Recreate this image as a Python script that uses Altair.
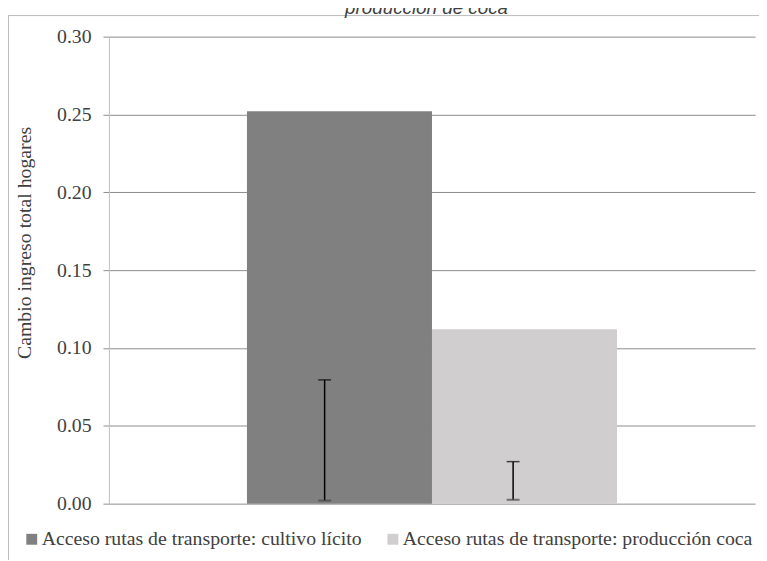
import altair as alt
import pandas as pd

# ---- data ----
series = [
    "Acceso rutas de transporte: cultivo lícito",
    "Acceso rutas de transporte: producción coca",
]
values = [0.252, 0.112]
err_low = [0.002, 0.0025]
err_high = [0.0795, 0.027]
colors = ["#808080", "#d0cecf"]
y_ticks = [0.0, 0.05, 0.10, 0.15, 0.20, 0.25, 0.30]
title_text = "producción de coca"
y_title = "Cambio ingreso total hogares"

df = pd.DataFrame({"series": series, "value": values, "lo": err_low, "hi": err_high})
one = pd.DataFrame({"k": [0]})

FONT = "Liberation Serif"
TXT = "#404040"
W, H = 653, 472
ERR_SHIFT = [-15, -11.5]  # error bars sit a little left of each bar's centre

x_enc = alt.X(
    "series:N",
    sort=series,
    axis=None,
    scale=alt.Scale(paddingInner=0, paddingOuter=0.746),
)
y_scale = alt.Scale(domain=[0, 0.30], nice=False, zero=True)
y_axis = alt.Axis(
    values=y_ticks,
    format=".2f",
    title=y_title,
    titleAngle=270,
    titleX=-85,
    titleY=208,
    titleAlign="center",
    titleBaseline="middle",
)

bars = alt.Chart(df).mark_bar().encode(
    x=x_enc,
    y=alt.Y("value:Q", scale=y_scale, axis=y_axis),
    color=alt.Color(
        "series:N",
        sort=series,
        scale=alt.Scale(domain=series, range=colors),
        title=None,
        legend=alt.Legend(
            orient="none",
            legendX=-88,
            legendY=498,
            direction="horizontal",
            symbolType="square",
            symbolSize=121,
            symbolStrokeWidth=0,
            labelOffset=0,
            columnPadding=21,
            labelLimit=1000,
            padding=0,
        ),
    ),
)

layers = [bars]
for s, shift in zip(series, ERR_SHIFT):
    base = alt.Chart(df).transform_filter(alt.datum.series == s)
    layers.append(
        base.mark_rule(color="black", strokeWidth=1.5, xOffset=shift).encode(
            x=x_enc,
            y=alt.Y("lo:Q", scale=y_scale, axis=y_axis),
            y2="hi:Q",
        )
    )
    layers.append(
        base.mark_tick(
            color="black", thickness=1.5, size=13, orient="horizontal", xOffset=shift
        ).encode(x=x_enc, y=alt.Y("hi:Q", scale=y_scale, axis=y_axis))
    )
    layers.append(
        base.mark_tick(
            color="#454545", thickness=2, size=13, orient="horizontal", xOffset=shift
        ).encode(x=x_enc, y=alt.Y("lo:Q", scale=y_scale, axis=y_axis))
    )

frame_top = alt.Chart(one).mark_rule(color="#bcbcbc", strokeWidth=1).encode(
    x=alt.value(-102), x2=alt.value(660), y=alt.value(-21.3)
)
frame_left = alt.Chart(one).mark_rule(color="#bcbcbc", strokeWidth=1).encode(
    x=alt.value(-101.5), y=alt.value(-21.3), y2=alt.value(530)
)
title = alt.Chart(one).mark_text(
    text=title_text,
    font="Liberation Sans",
    fontStyle="italic",
    fontSize=19,
    align="center",
    baseline="alphabetic",
    color=TXT,
).encode(x=alt.value(321), y=alt.value(-23))

layers += [frame_top, frame_left, title]

chart = (
    alt.layer(*layers)
    .properties(
        width=W,
        height=H,
        autosize=alt.AutoSizeParams(type="none"),
        padding={"left": 102, "top": 26, "right": 4, "bottom": 54},
    )
    .configure_view(strokeWidth=0)
    .configure_axis(
        labelFont=FONT,
        labelFontSize=20,
        labelColor=TXT,
        labelPadding=12,
        titleFont=FONT,
        titleFontSize=20,
        titleFontWeight="normal",
        titleColor=TXT,
        gridColor="#8c8c8c",
        gridWidth=1,
        domainColor="#bfbfbf",
        tickColor="#8c8c8c",
        tickSize=6,
    )
    .configure_legend(
        labelFont=FONT,
        labelFontSize=20,
        labelColor=TXT,
    )
)

chart.save("out.html", embed_options={"renderer": "svg", "actions": False})
